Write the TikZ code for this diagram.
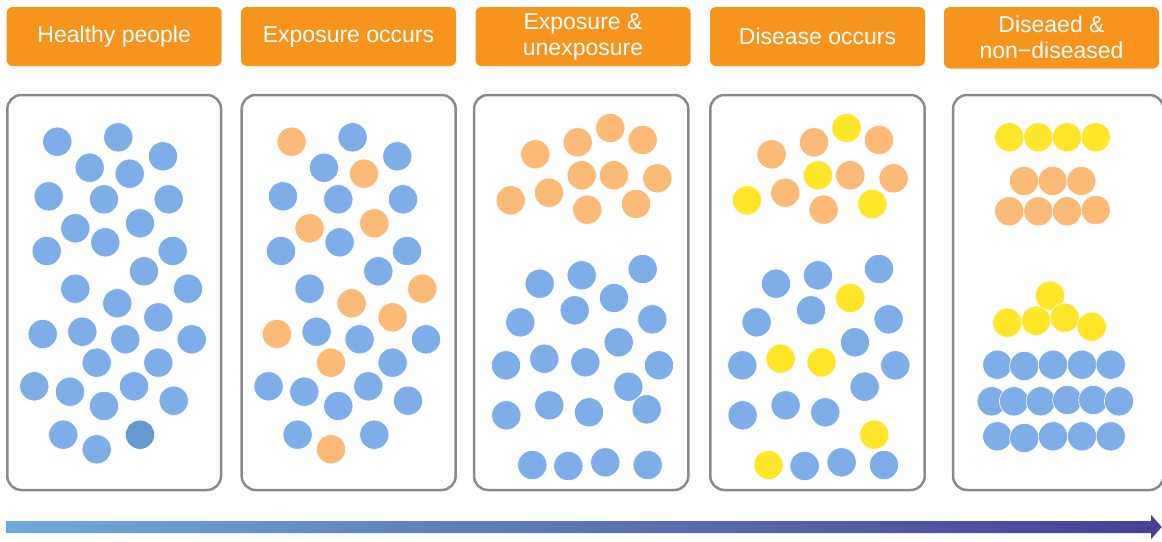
\documentclass[tikz,border=0pt]{standalone}
\usepackage{fontspec}
\setmainfont{Liberation Sans}
\definecolor{hdrorange}{HTML}{F7941D}
\definecolor{framegray}{HTML}{8A8A8E}
\definecolor{dotblue}{HTML}{7FADE8}
\definecolor{dotdark}{HTML}{6499D0}
\definecolor{dotorange}{HTML}{FBBA77}
\definecolor{dotyellow}{HTML}{FFE629}
\definecolor{arrowstart}{HTML}{70A8DC}
\definecolor{arrowend}{HTML}{483F93}
\tikzset{
  hdr/.style={fill=hdrorange, rounded corners=6pt, text=white, align=center,
    inner sep=0pt, font=\fontsize{23}{26}\selectfont},
  frame/.style={draw=framegray, line width=2.5pt, rounded corners=14pt},
  dot/.style={circle, draw=white, line width=0.6pt, minimum size=29.2pt, inner sep=0pt},
  B/.style={dot, fill=dotblue},
  D/.style={dot, fill=dotdark},
  O/.style={dot, fill=dotorange},
  Y/.style={dot, fill=dotyellow},
}
\begin{document}
\begin{tikzpicture}[x=1pt, y=-1pt]
\useasboundingbox (0,0) rectangle (1162,541);

% stage headers
\node[hdr, minimum width=215pt, minimum height=59pt] (h1) at (114.2,36.5) {Healthy people};
\node[hdr, minimum width=215pt, minimum height=59pt] (h2) at (348.5,36.5) {Exposure occurs};
\node[hdr, minimum width=215pt, minimum height=59pt] (h3) at (583,36.5) {Exposure \&\\unexposure};
\node[hdr, minimum width=215pt, minimum height=59pt] (h4) at (817.5,36.5) {Disease occurs};
\node[hdr, minimum width=215pt, minimum height=61.5pt] (h5) at (1051.5,37.75) {Diseaed \&\\non−diseased};

% population frames
\draw[frame] (7.3,95) rectangle (221,490);
\draw[frame] (241.7,95) rectangle (455.7,490);
\draw[frame] (474,95) rectangle (688.3,490);
\draw[frame] (710.3,95) rectangle (924.7,490);
\draw[frame] (953,95) rectangle (1163.5,490);

% stage 1: healthy people
\foreach \x/\y/\c [count=\i] in {
  57.3/141.7/B, 118.3/137.3/B, 163/156.3/B, 89.7/167.7/B, 129.7/173.7/B,
  48.7/196.3/B, 104/199.3/B, 168.7/199.3/B, 75.3/228.3/B, 140/223.3/B,
  46.7/251/B, 105.3/242.3/B, 172.7/251/B, 144/271.3/B, 75.3/288.7/B,
  188/288.7/B, 117.3/303.3/B, 158.3/317.3/B, 42.7/334/B, 82.3/331.7/B,
  125.3/339.3/B, 191.7/339.3/B, 96.7/362.7/B, 158.3/362.7/B, 34.3/386.3/B,
  70/391.7/B, 134/386.3/B, 104/406/B, 173.7/400.7/B, 63.3/434.7/B,
  140/434.7/D, 96.7/449.3/B}
  \node[\c] (a\i) at (\x,\y) {};

% stage 2: exposure occurs
\begin{scope}[xshift=234.3pt]
\foreach \x/\y/\c [count=\i] in {
  57.3/141.7/O, 118.3/137.3/B, 163/156.3/B, 89.7/167.7/B, 129.7/173.7/O,
  48.7/196.3/B, 104/199.3/B, 168.7/199.3/B, 75.3/228.3/O, 140/223.3/O,
  46.7/251/B, 105.3/242.3/B, 172.7/251/B, 144/271.3/B, 75.3/288.7/B,
  188/288.7/O, 117.3/303.3/O, 158.3/317.3/O, 42.7/334/O, 82.3/331.7/B,
  125.3/339.3/B, 191.7/339.3/B, 96.7/362.7/O, 158.3/362.7/B, 34.3/386.3/B,
  70/391.7/B, 134/386.3/B, 104/406/B, 173.7/400.7/B, 63.3/434.7/B,
  140/434.7/B, 96.7/449.3/O}
  \node[\c] (b\i) at (\x,\y) {};
\end{scope}

% stage 3: exposed and unexposed groups
\foreach \x/\y/\c [count=\i] in {
  535.3/154.3/O, 577.7/142.3/O, 610.3/128/O, 642.7/140/O, 581.7/175.3/O,
  614/175.3/O, 657.3/178.3/O, 510.7/200.3/O, 549/192.7/O, 587.3/209.7/O,
  636/204/O,
  539.7/283.7/B, 581.7/275.3/B, 642.7/269/B, 574.7/310.3/B, 614/298/B,
  520.3/322.3/B, 652.3/319.3/B, 618.7/342.3/B, 506/365.3/B, 544.3/358.7/B,
  585.3/362.3/B, 659/365.3/B, 628.3/386.7/B, 506.3/415.3/B, 549.3/405.3/B,
  589/412.3/B, 646.7/409.3/B, 532.3/465/B, 568.3/466/B, 605.3/462.3/B,
  647.7/465/B}
  \node[\c] (c\i) at (\x,\y) {};

% stage 4: disease occurs
\begin{scope}[xshift=236.3pt]
\foreach \x/\y/\c [count=\i] in {
  535.3/154.3/O, 577.7/142.3/O, 610.3/128/Y, 642.7/140/O, 581.7/175.3/Y,
  614/175.3/O, 657.3/178.3/O, 510.7/200.3/Y, 549/192.7/O, 587.3/209.7/O,
  636/204/Y,
  539.7/283.7/B, 581.7/275.3/B, 642.7/269/B, 574.7/310.3/B, 614/298/Y,
  520.3/322.3/B, 652.3/319.3/B, 618.7/342.3/B, 506/365.3/B, 544.3/358.7/Y,
  585.3/362.3/Y, 659/365.3/B, 628.3/386.7/B, 506.3/415.3/B, 549.3/405.3/B,
  589/412.3/B, 638/434.7/Y, 532.3/465/Y, 568.3/466/B, 605.3/462.3/B,
  647.7/465/B}
  \node[\c] (d\i) at (\x,\y) {};
\end{scope}

% stage 5: diseased and non-diseased, sorted
\foreach \x/\y/\c [count=\i] in {
  1009.3/137.3/Y, 1038.3/137.3/Y, 1067/137.3/Y, 1095.7/137.3/Y,
  1024/181/O, 1052.7/181/O, 1081.3/181/O,
  1009.3/211.3/O, 1038.3/211.3/O, 1067/211.3/O, 1095.7/210/O,
  1050/295.7/Y, 1007.3/322.7/Y, 1036/320.7/Y, 1064.7/317.7/Y, 1091.7/326.7/Y,
  997.3/364.7/B, 1024.3/366/B, 1053/364.7/B, 1082/364.7/B, 1110.7/364.7/B,
  991.7/401.3/B, 1014/401.3/B, 1040.7/401.3/B, 1067.3/400/B, 1093.3/400/B, 1119/401.3/B,
  997.3/436.3/B, 1024.3/438/B, 1053/436.3/B, 1082/436.3/B, 1110.7/436.3/B}
  \node[\c] (e\i) at (\x,\y) {};

% time arrow
\coordinate (tstart) at (6.3,527);
\coordinate (tend) at (1161.7,527);
\shade[left color=arrowstart, right color=arrowend]
  (6.3,521) -- (1151,521) -- (1151,514.7) -- (tend) -- (1151,539.3)
  -- (1151,533) -- (6.3,533) -- cycle;
\end{tikzpicture}
\end{document}
